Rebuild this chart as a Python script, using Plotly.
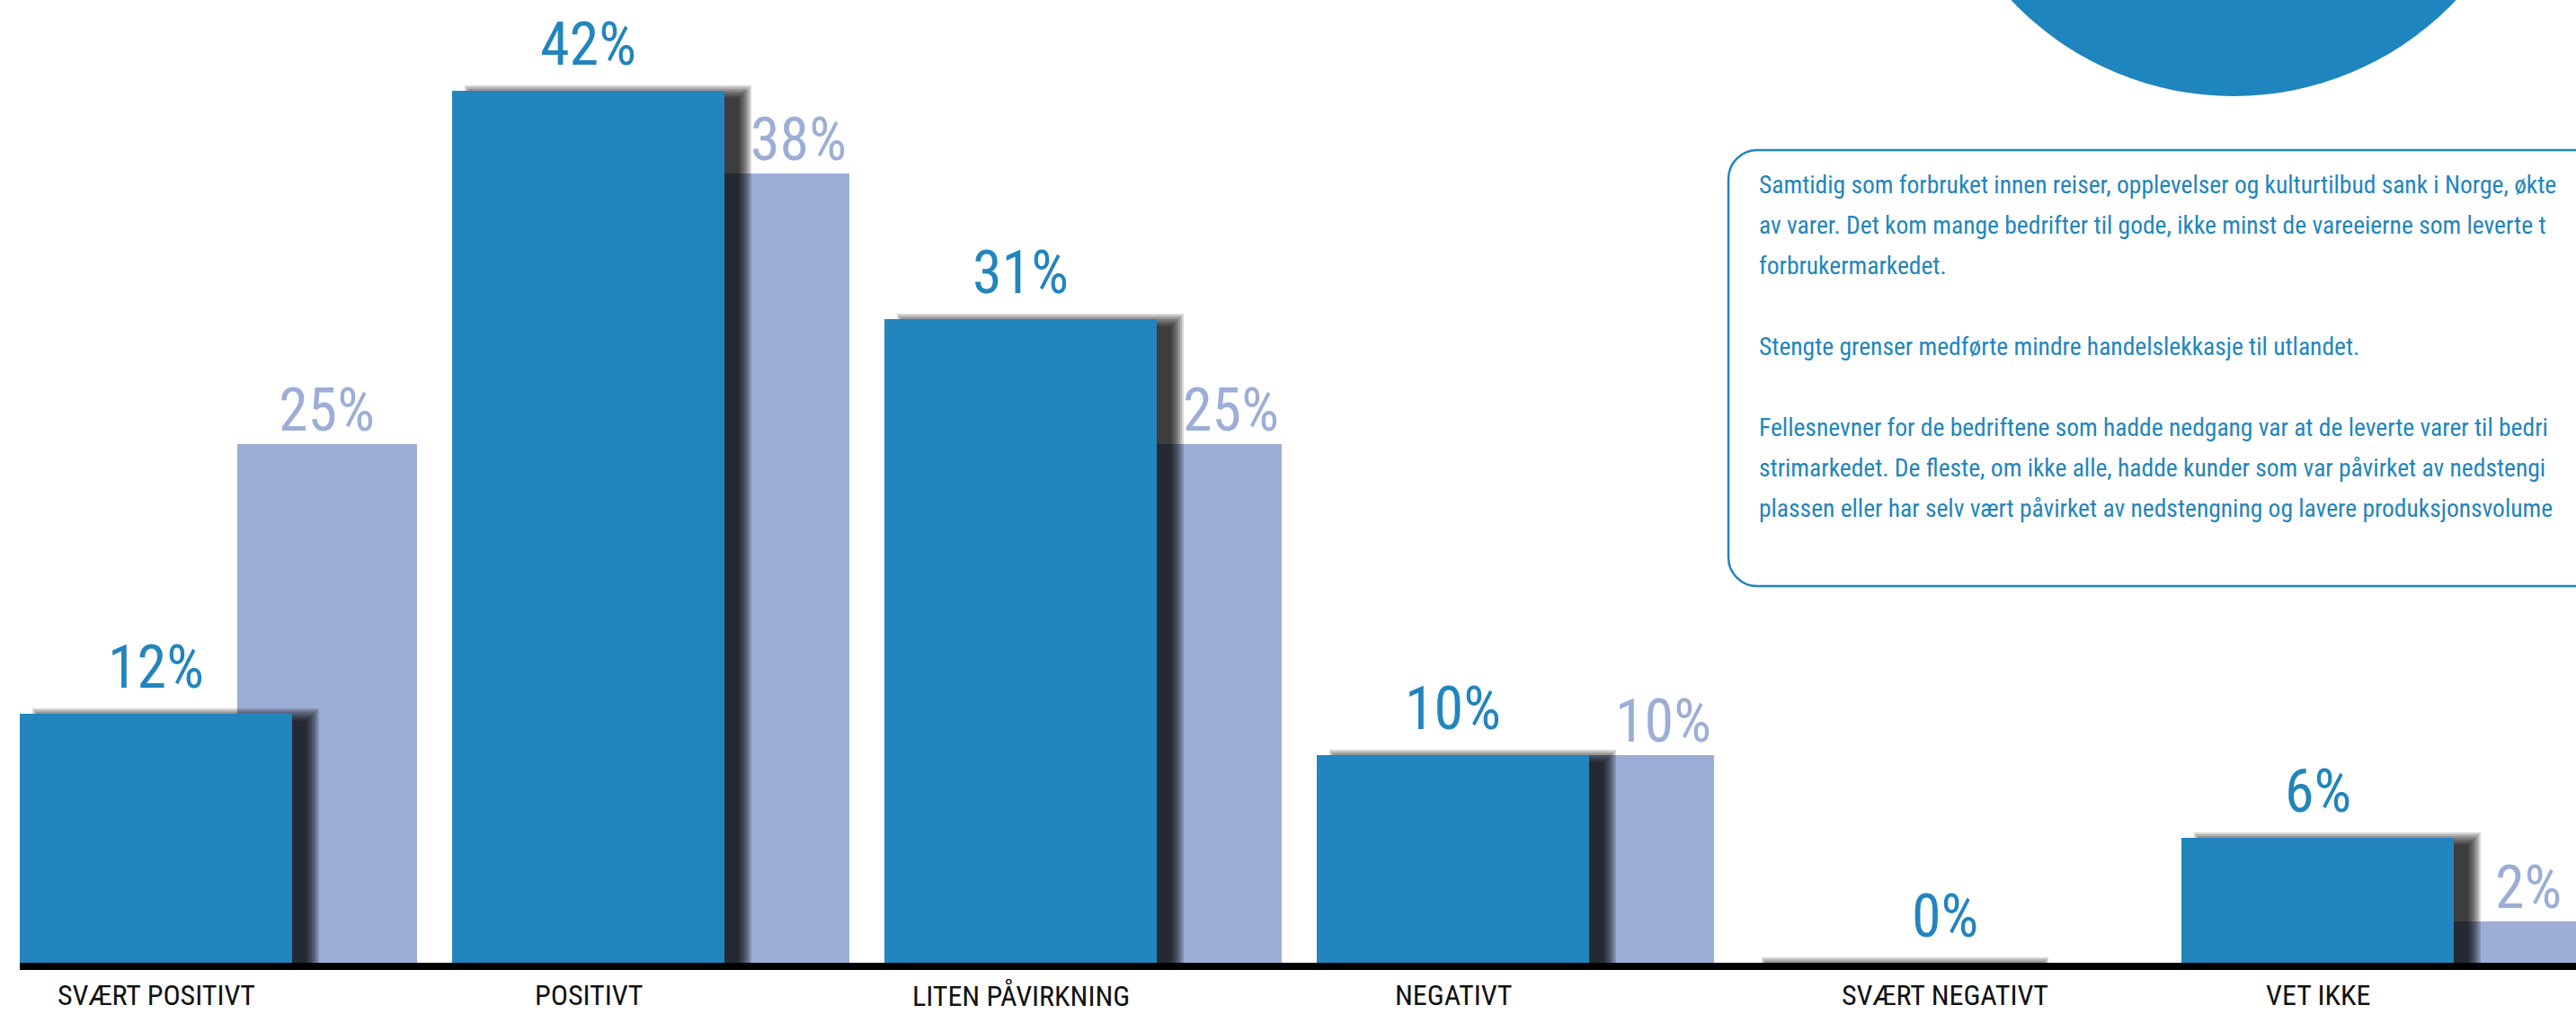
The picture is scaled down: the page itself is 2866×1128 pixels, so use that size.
import plotly.graph_objects as go

# ---- data -------------------------------------------------------------
categories = ["SVÆRT POSITIVT", "POSITIVT", "LITEN PÅVIRKNING",
              "NEGATIVT", "SVÆRT NEGATIVT", "VET IKKE"]
primary = [12, 42, 31, 10, 0, 6]        # front (dark blue) series, %
comparison = [25, 38, 25, 10, 0, 2]     # back (light blue) series, %

info_lines = [
    "Samtidig som forbruket innen reiser, opplevelser og kulturtilbud sank i Norge, økte",
    "av varer. Det kom mange bedrifter til gode, ikke minst de vareeierne som leverte t",
    "forbrukermarkedet.",
    "",
    "Stengte grenser medførte mindre handelslekkasje til utlandet.",
    "",
    "Fellesnevner for de bedriftene som hadde nedgang var at de leverte varer til bedri",
    "strimarkedet. De fleste, om ikke alle, hadde kunder som var påvirket av nedstengi",
    "plassen eller har selv vært påvirket av nedstengning og lavere produksjonsvolume",
]

# ---- styling / geometry -------------------------------------------------
W, H = 2866, 1128
DARK = "#2285BD"
LIGHT = "#9DAED6"
CIRCLE = "#1E85BF"
FONT = "Roboto Condensed, Liberation Sans Narrow, DejaVu Sans Condensed, sans-serif"

PX_PER_CAT = 481.0      # horizontal pixels per category slot
PX_PER_PCT = 23.1       # vertical pixels per percentage point
AXIS_PX = 1071          # pixel row of the zero line
FIRST_CENTER_PX = 173.5

DARK_OFF, DARK_W = -0.315, 0.630
LIGHT_OFF, LIGHT_W = 0.188, 0.416

x_lo = -FIRST_CENTER_PX / PX_PER_CAT
x_hi = x_lo + W / PX_PER_CAT
y_hi = AXIS_PX / PX_PER_PCT
y_lo = -(H - AXIS_PX) / PX_PER_PCT

fig = go.Figure()

# back series
fig.add_trace(go.Bar(
    x=categories, y=comparison, offset=LIGHT_OFF, width=LIGHT_W,
    marker=dict(color=LIGHT, line=dict(width=0)), hoverinfo="skip",
))

# soft drop shadow of the front bars, built from stacked translucent layers
SH_DX, SH_DY = 22, 2
for e in range(-6, 10, 2):
    fig.add_trace(go.Bar(
        x=categories,
        y=[max(v + (e - SH_DY) / PX_PER_PCT, 0) for v in primary],
        offset=DARK_OFF + (SH_DX - e) / PX_PER_CAT,
        width=DARK_W + 2 * e / PX_PER_CAT,
        marker=dict(color="rgba(0,0,0,0.159)", line=dict(width=0)),
        hoverinfo="skip",
    ))

# front series
fig.add_trace(go.Bar(
    x=categories, y=primary, offset=DARK_OFF, width=DARK_W,
    marker=dict(color=DARK, line=dict(width=0)), hoverinfo="skip",
))

annotations = []
label_shift = {4: 66}

# value labels
for i, v in enumerate(primary):
    annotations.append(dict(
        x=i, y=v, xref="x", yref="y", text=f"{v}%", showarrow=False,
        xanchor="center", yanchor="bottom", yshift=11,
        xshift=label_shift.get(i, 0),
        font=dict(family=FONT, size=66, color=DARK),
    ))
for i, (c, p) in enumerate(zip(comparison, primary)):
    if c == 0:
        continue
    annotations.append(dict(
        x=i + LIGHT_OFF + LIGHT_W / 2, y=c, xref="x", yref="y",
        text=f"{c}%", showarrow=False, xanchor="center", yanchor="bottom",
        yshift=-3, xshift=0 if c > p else 44,
        font=dict(family=FONT, size=66, color=LIGHT),
    ))

# category labels under the baseline
for i, cat in enumerate(categories):
    annotations.append(dict(
        x=i, y=0, xref="x", yref="y", text=cat, showarrow=False,
        xanchor="center", yanchor="top", yshift=-15,
        xshift=label_shift.get(i, 0),
        font=dict(family=FONT, size=32, color="#111111"),
    ))

# info box text
for k, line in enumerate(info_lines):
    if not line:
        continue
    baseline = 217 + 45 * k
    annotations.append(dict(
        x=1955 / W, y=1 - (baseline + 7) / H, xref="paper", yref="paper",
        text=line, showarrow=False, xanchor="left", yanchor="bottom",
        font=dict(family=FONT, size=27.5, color=DARK),
    ))


def px(xp, yp):
    return f"{xp / W:.5f},{1 - yp / H:.5f}"


# rounded info box (open to the right)
bx0, by0, by1, r = 1923, 167, 652, 32
k = 0.5523 * r
box_path = (
    f"M {px(3100, by0)} L {px(bx0 + r, by0)} "
    f"C {px(bx0 + r - k, by0)} {px(bx0, by0 + r - k)} {px(bx0, by0 + r)} "
    f"L {px(bx0, by1 - r)} "
    f"C {px(bx0, by1 - r + k)} {px(bx0 + r - k, by1)} {px(bx0 + r, by1)} "
    f"L {px(3100, by1)}"
)

cx, cy, cr = 2485, -233, 340
shapes = [
    # baseline bar
    dict(type="rect", xref="x", yref="y", x0=DARK_OFF, x1=x_hi + 1,
         y0=0, y1=-8 / PX_PER_PCT, fillcolor="#000000",
         line=dict(width=0), layer="above"),
    # decorative circle at the top
    dict(type="circle", xref="paper", yref="paper",
         x0=(cx - cr) / W, x1=(cx + cr) / W,
         y0=1 - (cy + cr) / H, y1=1 - (cy - cr) / H,
         fillcolor=CIRCLE, line=dict(width=0), layer="above"),
    dict(type="path", xref="paper", yref="paper", path=box_path,
         line=dict(color=DARK, width=2.5), layer="above"),
]

fig.update_layout(
    width=W, height=H,
    margin=dict(l=0, r=0, t=0, b=0, pad=0),
    paper_bgcolor="white", plot_bgcolor="white",
    barmode="overlay", bargap=0, showlegend=False,
    xaxis=dict(range=[x_lo, x_hi], visible=False, fixedrange=True),
    yaxis=dict(range=[y_lo, y_hi], visible=False, fixedrange=True),
    annotations=annotations, shapes=shapes,
)

fig.write_html("out.html", config={"displayModeBar": False})
